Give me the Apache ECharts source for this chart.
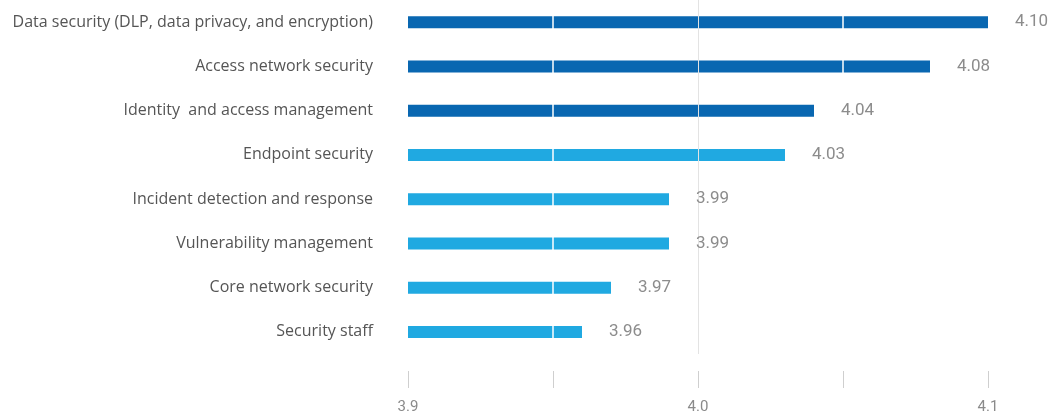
<!DOCTYPE html>
<html>
<head>
<meta charset="utf-8">
<script src="https://cdn.jsdelivr.net/npm/echarts@6/dist/echarts.min.js"></script>
<style>
  html, body { margin: 0; padding: 0; background: #fff; }
  #chart { width: 1059px; height: 418px; }
</style>
</head>
<body>
<div id="chart"></div>
<script>
// Average importance score per security area
const categories = [
  'Data security (DLP, data privacy, and encryption)',
  'Access network security',
  'Identity  and access management',
  'Endpoint security',
  'Incident detection and response',
  'Vulnerability management',
  'Core network security',
  'Security staff'
];
const scores = [4.10, 4.08, 4.04, 4.03, 3.99, 3.99, 3.97, 3.96];
const topGroupSize = 3;           // leading areas drawn in the darker blue
const axisMin = 3.9;
const axisMax = 4.1;
const tickStep = 0.05;
const gridLines = [3.95, 4.0, 4.05];

const DARK = '#0967b1';
const LIGHT = '#20a9e1';

const chart = echarts.init(document.getElementById('chart'));
chart.setOption({
  animation: false,
  backgroundColor: '#ffffff',
  grid: { left: 408, right: 71, top: 0, height: 354, containLabel: false },
  xAxis: {
    type: 'value',
    min: axisMin,
    max: axisMax,
    interval: tickStep,
    position: 'bottom',
    offset: 17,
    axisLine: { show: false },
    axisTick: { show: true, length: 17, lineStyle: { color: '#cfcfcf', width: 1 } },
    splitLine: { show: false },
    axisLabel: {
      margin: 29,
      color: '#8a8a8a',
      fontSize: 15,
      fontFamily: 'Roboto, sans-serif',
      // labels only on the tenths
      formatter: v => (Math.abs(v * 10 - Math.round(v * 10)) < 1e-6 ? v.toFixed(1) : '')
    }
  },
  yAxis: {
    type: 'category',
    data: categories,
    inverse: true,
    axisLine: { show: false },
    axisTick: { show: false },
    axisLabel: {
      margin: 35,
      color: '#555555',
      fontSize: 16,
      fontFamily: '"Open Sans", sans-serif'
    }
  },
  series: [
    {
      // bars, with the value grid drawn across them
      type: 'bar',
      z: 2,
      data: scores,
      barWidth: 12,
      itemStyle: {
        color: p => (p.dataIndex < topGroupSize ? DARK : LIGHT)
      },
      markLine: {
        silent: true,
        symbol: 'none',
        label: { show: false },
        animation: false,
        data: gridLines.map(v => ({
          xAxis: v,
          lineStyle: v === 4.0
            ? { color: '#e3e3e3', width: 1, type: 'solid' }
            : { color: '#ffffff', width: 1.5, type: 'solid' }
        }))
      }
    },
    {
      // value labels, kept above the grid lines
      type: 'bar',
      z: 5,
      data: scores,
      barWidth: 12,
      barGap: '-100%',
      silent: true,
      itemStyle: { color: 'rgba(0,0,0,0)' },
      label: {
        show: true,
        position: 'right',
        distance: 27,
        color: '#8c8c8c',
        fontSize: 17,
        fontFamily: 'Roboto, sans-serif',
        formatter: p => p.value.toFixed(2)
      }
    }
  ]
});
</script>
</body>
</html>
